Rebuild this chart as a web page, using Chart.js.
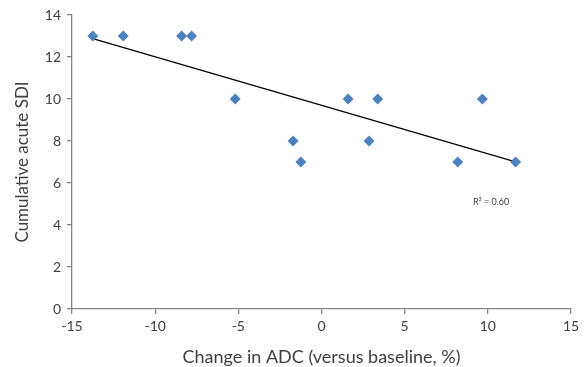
<!DOCTYPE html>
<html>
<head>
<meta charset="utf-8">
<script src="https://cdn.jsdelivr.net/npm/chart.js@4.4.1/dist/chart.umd.min.js"></script>
<style>
html,body{margin:0;padding:0;background:#fff;}
#wrap{width:587px;height:367px;}
</style>
</head>
<body>
<div id="wrap"><canvas id="c" width="587" height="367"></canvas></div>
<script>
const adcChange = [-13.75, -11.92, -8.41, -7.81, -5.19, -1.71, -1.24, 1.60, 2.86, 3.38, 8.19, 9.67, 11.67];
const acuteSDI  = [13, 13, 13, 13, 10, 8, 7, 10, 8, 10, 7, 10, 7];
const xTicks = [-15, -10, -5, 0, 5, 10, 15];
const yTicks = [0, 2, 4, 6, 8, 10, 12, 14];
const r2Label = "R\u00B2 = 0.60";
const r2LabelPos = [10.2, 5.1];

// linear least-squares trend line computed from the data
const n = adcChange.length;
const mx = adcChange.reduce((a,b)=>a+b,0)/n;
const my = acuteSDI.reduce((a,b)=>a+b,0)/n;
let sxy=0, sxx=0;
for(let i=0;i<n;i++){sxy+=(adcChange[i]-mx)*(acuteSDI[i]-my);sxx+=(adcChange[i]-mx)**2;}
const slope = sxy/sxx, icept = my - slope*mx;
const xmin = Math.min(...adcChange), xmax = Math.max(...adcChange);
const trend = [{x:xmin,y:icept+slope*xmin},{x:xmax,y:icept+slope*xmax}];

const points = adcChange.map((x,i)=>({x:x,y:acuteSDI[i]}));

const fontFam = "Lato, 'Open Sans', sans-serif";

const labelPlugin = {
  id:'r2label',
  afterDatasetsDraw(chart){
    const ctx = chart.ctx;
    const xs = chart.scales.x, ys = chart.scales.y;
    ctx.save();
    ctx.font = "9px " + fontFam;
    ctx.fillStyle = "#404040";
    ctx.textAlign = "center";
    ctx.textBaseline = "middle";
    ctx.fillText(r2Label, xs.getPixelForValue(r2LabelPos[0]), ys.getPixelForValue(r2LabelPos[1]));
    ctx.restore();
  }
};

new Chart(document.getElementById('c'), {
  type:'scatter',
  data:{
    datasets:[
      {
        type:'line',
        data:trend,
        borderColor:'#000',
        borderWidth:1.3,
        pointRadius:0,
        fill:false,
        order:2
      },
      {
        data:points,
        pointStyle:'rectRot',
        pointRadius:5.5,
        pointHoverRadius:5.5,
        backgroundColor:'#4F81BD',
        borderColor:'#4F81BD',
        borderWidth:0,
        order:1
      }
    ]
  },
  options:{
    responsive:false,
    animation:false,
    events:[],
    layout:{padding:{top:15,right:16,bottom:0,left:10}},
    plugins:{legend:{display:false},tooltip:{enabled:false}},
    scales:{
      x:{
        type:'linear',
        min:-15,max:15,
        afterBuildTicks(s){s.ticks = xTicks.map(v=>({value:v}));},
        afterFit(s){s.height = 58;},
        border:{color:'#868686',width:1.3},
        grid:{display:true,drawOnChartArea:false,drawTicks:true,tickLength:5,color:'#868686',lineWidth:1.3},
        ticks:{color:'#404040',font:{family:fontFam,size:14},padding:4,maxRotation:0},
        title:{display:true,text:'Change in ADC (versus baseline, %)',color:'#404040',font:{family:fontFam,size:18},padding:{top:2,bottom:-1}}
      },
      y:{
        type:'linear',
        min:0,max:14,
        afterBuildTicks(s){s.ticks = yTicks.map(v=>({value:v}));},
        afterFit(s){s.width = 62;},
        border:{color:'#868686',width:1.3},
        grid:{display:true,drawOnChartArea:false,drawTicks:true,tickLength:5,color:'#868686',lineWidth:1.3},
        ticks:{color:'#404040',font:{family:fontFam,size:14},padding:6},
        title:{display:true,text:'Cumulative acute SDI',color:'#404040',font:{family:fontFam,size:17},padding:{top:2,bottom:0}}
      }
    }
  },
  plugins:[labelPlugin]
});
</script>
</body>
</html>
